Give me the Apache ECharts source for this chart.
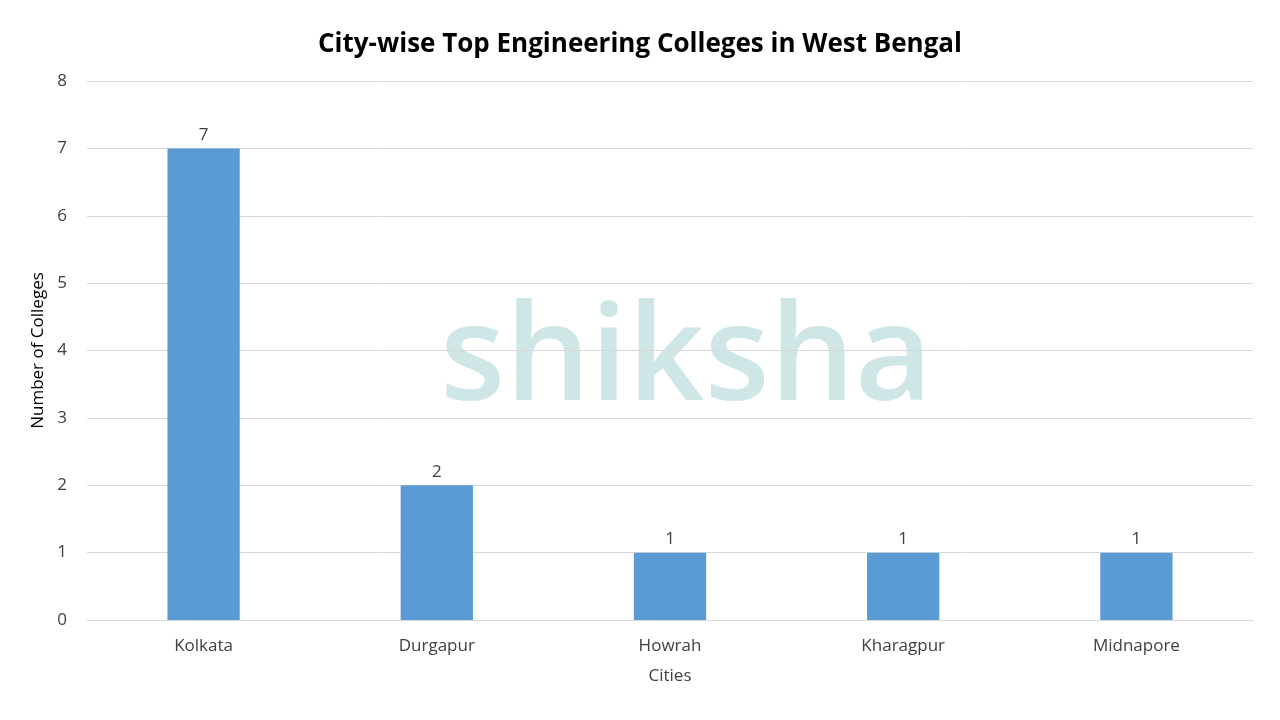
<!DOCTYPE html>
<html>
<head>
<meta charset="UTF-8">
<script src="https://cdn.jsdelivr.net/npm/echarts@6/dist/echarts.min.js"></script>
</head>
<body style="margin:0">
<div id="container" style="width:1280px;height:720px"></div>
<script>
var cities = ['Kolkata', 'Durgapur', 'Howrah', 'Kharagpur', 'Midnapore'];
var colleges = [7, 2, 1, 1, 1];
var yTicks = [0, 8, 1];

var font = '"Open Sans", "Liberation Sans", sans-serif';
var chart = echarts.init(document.getElementById('container'));
chart.setOption({
    backgroundColor: '#fff',
    title: {
        text: 'City-wise Top Engineering Colleges in West Bengal',
        left: 'center', top: 27,
        textStyle: {fontFamily: font, fontSize: 26, fontWeight: 'bold', color: '#000'}
    },
    graphic: [{
        type: 'text', left: 440, top: 295, z: 0,
        style: {text: 'shiksha', fill: 'rgba(160,205,205,0.5)', font: '600 134px ' + font}
    }],
    grid: {left: 87, right: 27, top: 81, bottom: 100},
    xAxis: {
        type: 'category', data: cities, name: 'Cities', nameLocation: 'middle', nameGap: 48,
        nameTextStyle: {fontFamily: font, fontSize: 17, color: '#404040'},
        axisLine: {lineStyle: {color: '#d9d9d9'}}, axisTick: {show: false},
        axisLabel: {fontFamily: font, fontSize: 17, color: '#404040', margin: 18}
    },
    yAxis: {
        type: 'value', min: yTicks[0], max: yTicks[1], interval: yTicks[2],
        name: 'Number of Colleges', nameLocation: 'middle', nameGap: 40,
        nameTextStyle: {fontFamily: font, fontSize: 17, color: '#000'},
        axisLabel: {fontFamily: font, fontSize: 17, color: '#404040', margin: 20},
        splitLine: {lineStyle: {color: '#d9d9d9'}}
    },
    series: [{
        type: 'bar', data: colleges, barWidth: '31%',
        itemStyle: {color: '#5b9bd5'},
        label: {show: true, position: 'top', fontFamily: font, fontSize: 17, color: '#404040'}
    }]
});
</script>
</body>
</html>
